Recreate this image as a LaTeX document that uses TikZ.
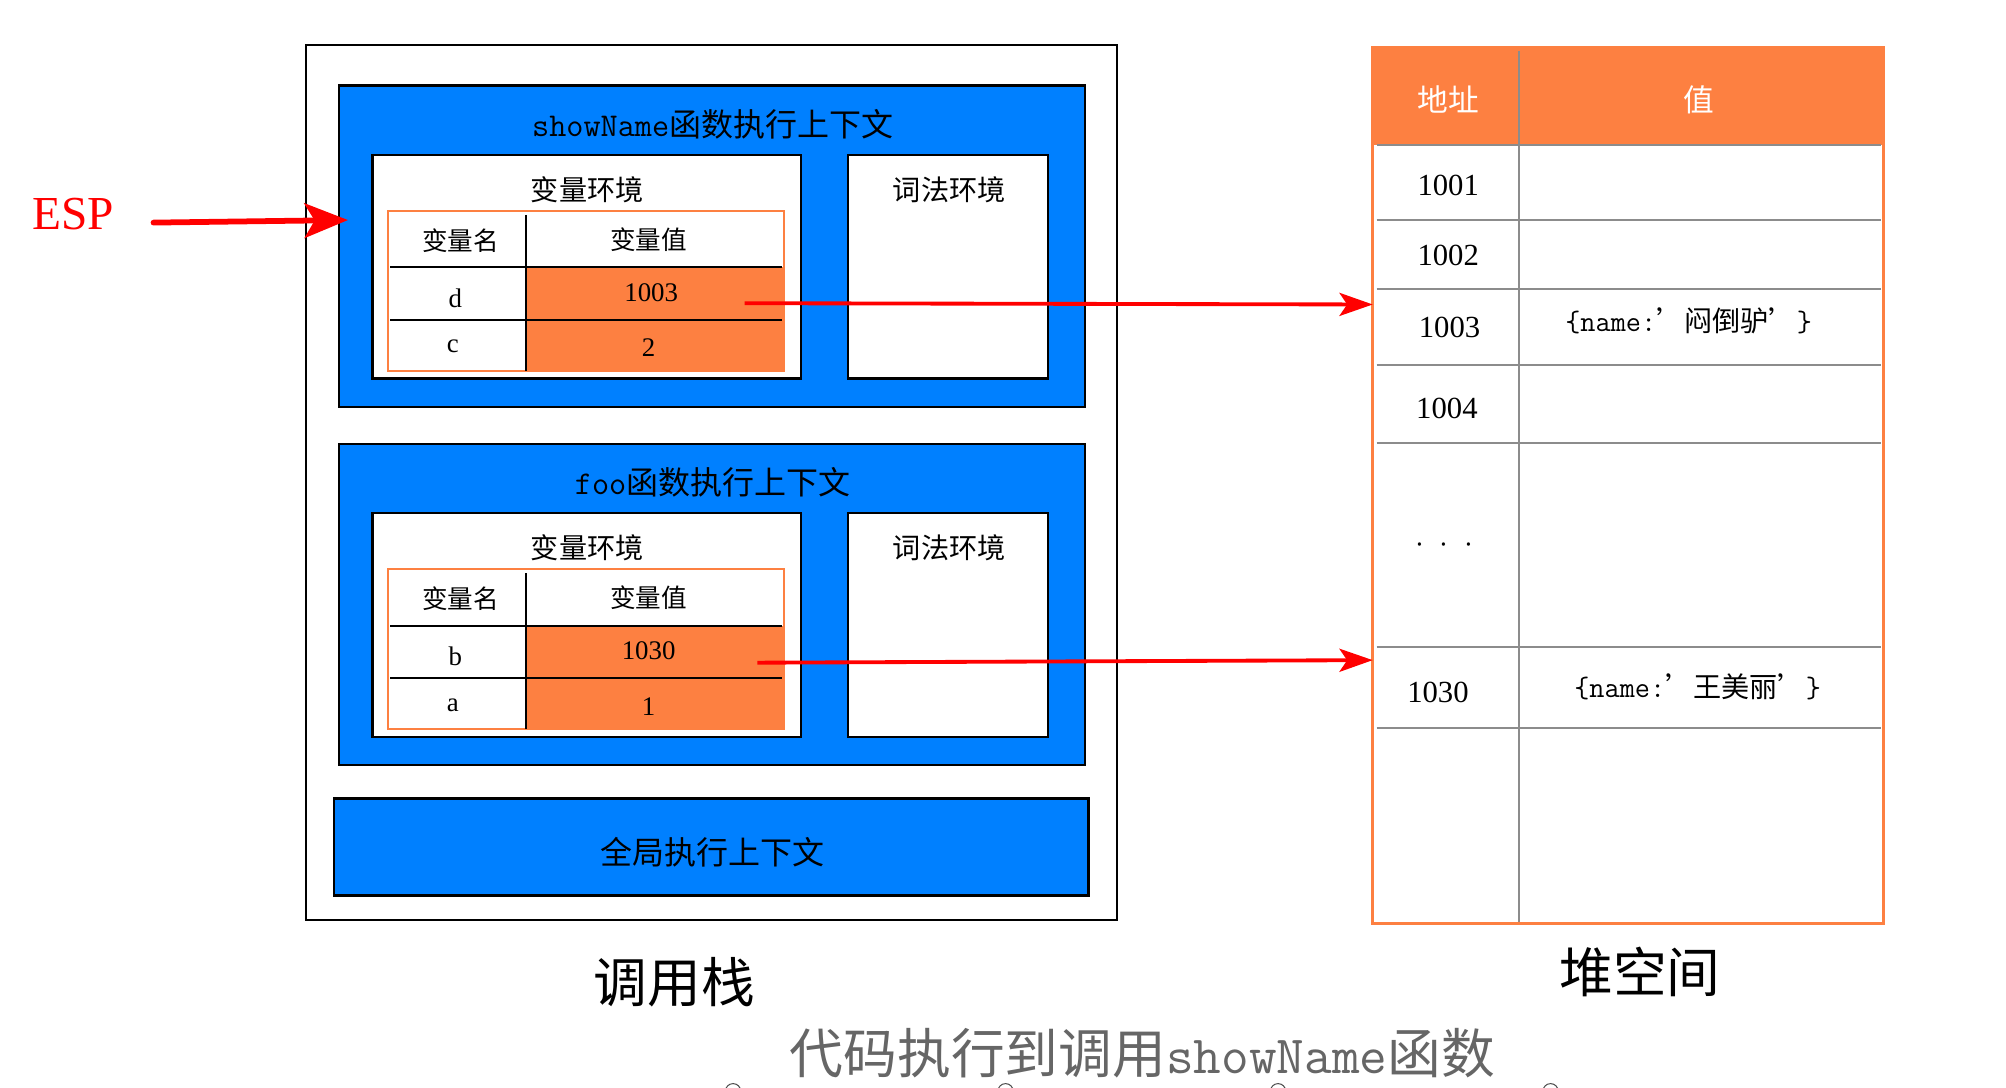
\documentclass[tikz,border=0pt]{standalone}
\usepackage{fontspec}
\setmainfont{Liberation Serif}
\newfontfamily\cjk{Noto Sans CJK SC}
\usetikzlibrary{arrows.meta}
\definecolor{cblue}{HTML}{0080FF}
\definecolor{corange}{HTML}{FD8041}
\definecolor{cgray}{HTML}{8C8C8C}
\definecolor{cred}{HTML}{FF0000}
\definecolor{ccap}{HTML}{666666}
\newcommand{\fs}[1]{\fontsize{#1}{#1}\selectfont}
\begin{document}
\begin{tikzpicture}[x=1pt,y=-1pt,
  frame/.style={draw=black, line width=1.6pt, anchor=north west, inner sep=0pt, outer sep=0pt},
  ctxbox/.style={frame, fill=cblue, line width=2pt},
  envbox/.style={frame, fill=white, line width=2pt},
  tblbox/.style={draw=corange, fill=white, line width=1.5pt, anchor=north west, inner sep=0pt, outer sep=0pt},
  cellfill/.style={fill=corange, draw=none, anchor=north west, inner sep=0pt, outer sep=0pt},
  rule/.style={draw=black, line width=1.5pt},
  grayrule/.style={draw=cgray, line width=1.6pt},
  txt/.style={inner sep=0pt, font=\cjk\fs{22}},
  redarrow/.style={draw=cred, line width=3pt, -{Stealth[length=26pt,width=18pt,inset=6pt]}},
  esparrow/.style={draw=cred, line width=4.5pt, line cap=round, -{Stealth[length=34pt,width=27pt,inset=8pt]}},
  handle/.style={draw=black!70, line width=0.8pt, fill=white}
]
\useasboundingbox (0,0) rectangle (1568,850);

% ---------------- call stack ----------------
\node[frame, minimum width=634pt, minimum height=684pt] (stack) at (239,35) {};

% context 1
\node[ctxbox, minimum width=583pt, minimum height=251pt] (ctx1) at (265,67) {};
\node[txt, font=\fs{25}] (ctx1t) at (557,97) {{\ttfamily\fs{26}showName}{\cjk 函数执行上下文}};
\node[envbox, minimum width=335pt, minimum height=175pt] (var1) at (291,121) {};
\node[envbox, minimum width=156pt, minimum height=175pt] (lex1) at (663,121) {};
\node[txt] (var1t) at (459,148) {变量环境};
\node[txt] (lex1t) at (742,148) {词法环境};
\node[tblbox, minimum width=310pt, minimum height=125pt] (tb1) at (303,165) {};
\node[cellfill, minimum width=202pt, minimum height=81pt] (tb1v) at (411,209) {};
\draw[rule] (305,209) -- (611,209);
\draw[rule] (305,250) -- (611,250);
\draw[rule, line width=1.2pt] (411,168) -- (411,290);
\node[txt, font=\cjk\fs{20}] (h1n) at (360,188) {变量名};
\node[txt, font=\cjk\fs{20}] (h1v) at (507,187) {变量值};
\node[txt, font=\fs{21}] (nd) at (356,233) {d};
\node[txt, font=\fs{21}] (vd) at (509,229) {1003};
\node[txt, font=\fs{21}] (nc) at (354,271) {c};
\node[txt, font=\fs{21}] (vc) at (507,272) {2};

% context 2
\node[ctxbox, minimum width=583pt, minimum height=251pt] (ctx2) at (265,347) {};
\node[txt, font=\fs{25}] (ctx2t) at (557,377) {{\ttfamily\fs{26}foo}{\cjk 函数执行上下文}};
\node[envbox, minimum width=335pt, minimum height=175pt] (var2) at (291,401) {};
\node[envbox, minimum width=156pt, minimum height=175pt] (lex2) at (663,401) {};
\node[txt] (var2t) at (459,428) {变量环境};
\node[txt] (lex2t) at (742,428) {词法环境};
\node[tblbox, minimum width=310pt, minimum height=125pt] (tb2) at (303,445) {};
\node[cellfill, minimum width=202pt, minimum height=81pt] (tb2v) at (411,489) {};
\draw[rule] (305,489) -- (611,489);
\draw[rule] (305,530) -- (611,530);
\draw[rule, line width=1.2pt] (411,448) -- (411,570);
\node[txt, font=\cjk\fs{20}] (h2n) at (360,468) {变量名};
\node[txt, font=\cjk\fs{20}] (h2v) at (507,467) {变量值};
\node[txt, font=\fs{21}] (nb) at (356,513) {b};
\node[txt, font=\fs{21}] (vb) at (507,509) {1030};
\node[txt, font=\fs{21}] (na) at (354,551) {a};
\node[txt, font=\fs{21}] (va) at (507,552) {1};

% global context
\node[ctxbox, minimum width=590pt, minimum height=76pt] (glob) at (261,624) {};
\node[txt, font=\cjk\fs{25}] (globt) at (557,666) {全局执行上下文};

\node[txt, font=\cjk\fs{42}] (stackt) at (527,768) {调用栈};

% ---------------- heap ----------------
\node[cellfill, minimum width=399pt, minimum height=76pt] (hhead) at (1073,37) {};
\draw[grayrule] (1187,40) -- (1187,722);
\foreach \yy in {113,172,226,285,346,506,569}
  \draw[grayrule] (1076,\yy) -- (1470,\yy);
\node[draw=corange, line width=2.2pt, anchor=north west, inner sep=0pt, outer sep=0pt,
      minimum width=399pt, minimum height=685pt] (heap) at (1073,37) {};
\node[txt, font=\cjk\fs{24}, text=white] (haddr) at (1132,78) {地址};
\node[txt, font=\cjk\fs{24}, text=white] (hval) at (1328,78) {值};
\node[txt, font=\fs{24}] (r1001) at (1132,145) {1001};
\node[txt, font=\fs{24}] (r1002) at (1132,200) {1002};
\node[txt, font=\fs{24}] (r1003) at (1133,256) {1003};
\node[txt, font=\fs{24}] (r1004) at (1131,319) {1004};
\node[txt, font=\fs{24}] (rdots) at (1129,426) {$\cdot\;\cdot\;\cdot$};
\node[txt, font=\fs{24}] (r1030) at (1124,541) {1030};
\node[txt, font=\fs{22}] (o1) at (1320,251) {{\ttfamily\fs{23}\{name:}{\cjk ’闷倒驴’}{\ttfamily\fs{23}\}}};
\node[txt, font=\fs{22}] (o2) at (1327,537) {{\ttfamily\fs{23}\{name:}{\cjk ’王美丽’}{\ttfamily\fs{23}\}}};
\node[txt, font=\cjk\fs{42}] (heapt) at (1282,760) {堆空间};

% ---------------- arrows ----------------
\node[txt, font=\fs{37}, text=cred] (esp) at (57,167) {ESP};
\coordinate (espS) at (120,174);
\coordinate (espE) at (272,172);
\draw[esparrow] (espS) -- (espE);
\coordinate (a1S) at (582,237);
\coordinate (a1E) at (1073,238);
\draw[redarrow] (a1S) -- (a1E);
\coordinate (a2S) at (592,518);
\coordinate (a2E) at (1073,516);
\draw[redarrow] (a2S) -- (a2E);

% caption
\node[txt, font=\fs{42}, text=ccap] (cap) at (893,823) {{\cjk 代码执行到调用}{\ttfamily showName}{\cjk 函数}};

% selection handles
\foreach \xx in {573,786,999,1212}
  \draw[handle] (\xx,853) circle (6);
\end{tikzpicture}
\end{document}
